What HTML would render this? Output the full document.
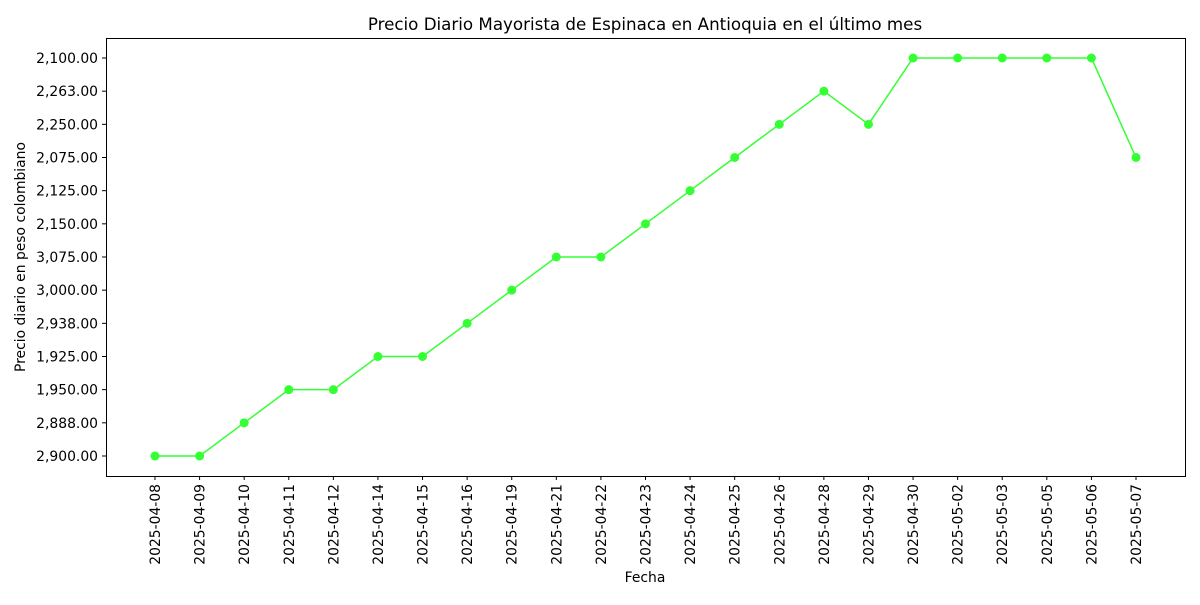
<!DOCTYPE html>
<html><head><meta charset="utf-8"><style>
body{margin:0;background:#fff;}
svg text{font-family:"DejaVu Sans","Liberation Sans",sans-serif;fill:#000;}
</style></head><body>
<svg id="chart" width="1200" height="600">
<rect width="1200" height="600" fill="#fff"/>
<text x="645" y="30" font-size="16.7" text-anchor="middle">Precio Diario Mayorista de Espinaca en Antioquia en el último mes</text>
<text x="645" y="582" font-size="13.9" text-anchor="middle">Fecha</text>
<text transform="translate(25,257) rotate(-90)" font-size="13.9" text-anchor="middle">Precio diario en peso colombiano</text>
<g id="grid"></g>
<rect x="106.5" y="38.5" width="1079" height="438" fill="none" stroke="#000" stroke-width="1"/>
</svg>
<script>
const categories=["2025-04-08","2025-04-09","2025-04-10","2025-04-11","2025-04-12","2025-04-14","2025-04-15","2025-04-16","2025-04-19","2025-04-21","2025-04-22","2025-04-23","2025-04-24","2025-04-25","2025-04-26","2025-04-28","2025-04-29","2025-04-30","2025-05-02","2025-05-03","2025-05-05","2025-05-06","2025-05-07"];
const yLabels=["2,900.00","2,888.00","1,950.00","1,925.00","2,938.00","3,000.00","3,075.00","2,150.00","2,125.00","2,075.00","2,250.00","2,263.00","2,100.00"];
const values=["2,900.00","2,900.00","2,888.00","1,950.00","1,950.00","1,925.00","1,925.00","2,938.00","3,000.00","3,075.00","3,075.00","2,150.00","2,125.00","2,075.00","2,250.00","2,263.00","2,250.00","2,100.00","2,100.00","2,100.00","2,100.00","2,100.00","2,075.00"];
const NS="http://www.w3.org/2000/svg";
const svg=document.getElementById('chart');
const g=document.getElementById('grid');
function xScale(i){return 155+i*(1136-155)/(categories.length-1);}
function yScale(label){const k=yLabels.indexOf(label);return 456-k*(456-58)/(yLabels.length-1);}
function mk(tag,attrs){const e=document.createElementNS(NS,tag);for(const k in attrs)e.setAttribute(k,attrs[k]);return e;}
yLabels.forEach((l)=>{
  const y=yScale(l);
  const t=mk('line',{x1:102,x2:106,y1:y,y2:y,stroke:'#000'});
  
  
  g.appendChild(t);
  const tx=mk('text',{x:98,y:y+5,'font-size':13.9,'text-anchor':'end'});
  
  
  tx.textContent=l;g.appendChild(tx);
});
categories.forEach((c,i)=>{
  const x=xScale(i);
  const t=mk('line',{x1:x,x2:x,y1:476,y2:480,stroke:'#000'});
  
  
  g.appendChild(t);
  const tx=mk('text',{transform:`translate(${x+5},484) rotate(-90)`,'font-size':13.9,'text-anchor':'end'});
  
  
  tx.textContent=c;g.appendChild(tx);
});
const pts=values.map((v,i)=>xScale(i)+','+yScale(v)).join(' ');
const line=mk('polyline',{points:pts,fill:'none',stroke:'#33ff33','stroke-width':1.5});


svg.appendChild(line);
values.forEach((v,i)=>{
  const c=mk('circle',{cx:xScale(i),cy:yScale(v),r:4.5,fill:'#33ff33'});
  
  
  svg.appendChild(c);
});
</script>
</body></html>
